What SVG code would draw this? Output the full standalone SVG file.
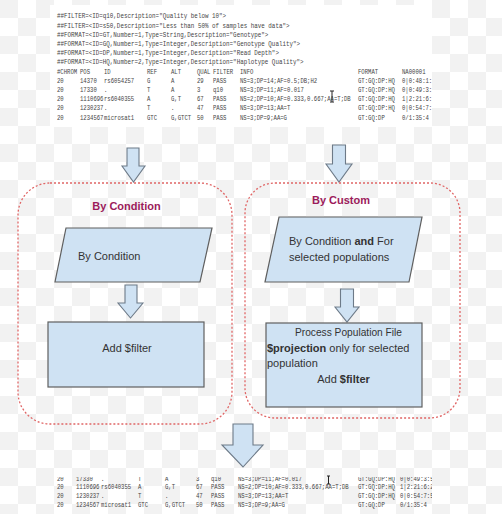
<svg xmlns="http://www.w3.org/2000/svg" width="502" height="514" viewBox="0 0 502 514">
<defs>
<pattern id="chk" width="36" height="36" patternUnits="userSpaceOnUse">
<rect width="36" height="36" fill="#ffffff"/>
<rect width="18" height="18" fill="#f2f2f2"/>
<rect x="18" y="18" width="18" height="18" fill="#f2f2f2"/>
</pattern>
<clipPath id="clipTop"><rect x="50" y="5" width="382" height="122"/></clipPath>
<clipPath id="clipBot"><rect x="50" y="477" width="382" height="37"/></clipPath>
<style>
.vcf{font-family:"Liberation Mono",monospace;font-size:7px;fill:#454545}
.box{fill:#cfe2f3;stroke:#5f5f5f;stroke-width:1.2}
.grp{fill:none;stroke:#e06666;stroke-width:1.3;stroke-dasharray:2 2}
.title{font-family:"Liberation Sans",Arial,sans-serif;font-size:11px;font-weight:bold;fill:#9c1b5b}
.lbl{font-family:"Liberation Sans",Arial,sans-serif;font-size:11px;fill:#333333}
.b{font-weight:bold}
.arr{fill:#cfe2f3;stroke:#6d7a88;stroke-width:1.1;stroke-linejoin:miter}
.cur{fill:none;stroke:#222;stroke-width:1}
</style>
</defs>
<rect width="502" height="514" fill="url(#chk)"/>

<g id="vcf-input">
<rect x="50" y="5" width="382" height="122" fill="#ffffff"/>
<g clip-path="url(#clipTop)">
<g transform="scale(0.84,1)" class="vcf">
<text x="67.86" y="18.5">##FILTER=&lt;ID=q10,Description="Quality below 10"&gt;</text>
<text x="67.86" y="27.7">##FILTER=&lt;ID=s50,Description="Less than 50% of samples have data"&gt;</text>
<text x="67.86" y="36.9">##FORMAT=&lt;ID=GT,Number=1,Type=String,Description="Genotype"&gt;</text>
<text x="67.86" y="46.1">##FORMAT=&lt;ID=GQ,Number=1,Type=Integer,Description="Genotype Quality"&gt;</text>
<text x="67.86" y="55.3">##FORMAT=&lt;ID=DP,Number=1,Type=Integer,Description="Read Depth"&gt;</text>
<text x="67.86" y="64.5">##FORMAT=&lt;ID=HQ,Number=2,Type=Integer,Description="Haplotype Quality"&gt;</text>
</g>
<g transform="scale(0.8,1)" class="vcf">
<text y="73.7"><tspan x="71.25">#CHROM</tspan><tspan x="100">POS</tspan><tspan x="130">ID</tspan><tspan x="183.75">REF</tspan><tspan x="213.75">ALT</tspan><tspan x="246.25">QUAL</tspan><tspan x="266.25">FILTER</tspan><tspan x="300">INFO</tspan><tspan x="447.5">FORMAT</tspan><tspan x="502.5">NA00001</tspan></text>
<text y="82.9"><tspan x="71.25">20</tspan><tspan x="100">14370</tspan><tspan x="130">rs6054257</tspan><tspan x="183.75">G</tspan><tspan x="213.75">A</tspan><tspan x="246.25">29</tspan><tspan x="266.25">PASS</tspan><tspan x="300">NS=3;DP=14;AF=0.5;DB;H2</tspan><tspan x="447.5">GT:GQ:DP:HQ</tspan><tspan x="502.5">0|0:48:1:51,51</tspan></text>
<text y="92.1"><tspan x="71.25">20</tspan><tspan x="100">17330</tspan><tspan x="130">.</tspan><tspan x="183.75">T</tspan><tspan x="213.75">A</tspan><tspan x="246.25">3</tspan><tspan x="266.25">q10</tspan><tspan x="300">NS=3;DP=11;AF=0.017</tspan><tspan x="447.5">GT:GQ:DP:HQ</tspan><tspan x="502.5">0|0:49:3:58,50</tspan></text>
<text y="101.3"><tspan x="71.25">20</tspan><tspan x="100">1110696</tspan><tspan x="130">rs6040355</tspan><tspan x="183.75">A</tspan><tspan x="213.75">G,T</tspan><tspan x="246.25">67</tspan><tspan x="266.25">PASS</tspan><tspan x="300">NS=2;DP=10;AF=0.333,0.667;AA=T;DB</tspan><tspan x="447.5">GT:GQ:DP:HQ</tspan><tspan x="502.5">1|2:21:6:23,27</tspan></text>
<text y="110.5"><tspan x="71.25">20</tspan><tspan x="100">1230237</tspan><tspan x="130">.</tspan><tspan x="183.75">T</tspan><tspan x="213.75">.</tspan><tspan x="246.25">47</tspan><tspan x="266.25">PASS</tspan><tspan x="300">NS=3;DP=13;AA=T</tspan><tspan x="447.5">GT:GQ:DP:HQ</tspan><tspan x="502.5">0|0:54:7:56,60</tspan></text>
<text y="119.7"><tspan x="71.25">20</tspan><tspan x="100">1234567</tspan><tspan x="130">microsat1</tspan><tspan x="183.75">GTC</tspan><tspan x="213.75">G,GTCT</tspan><tspan x="246.25">50</tspan><tspan x="266.25">PASS</tspan><tspan x="300">NS=3;DP=9;AA=G</tspan><tspan x="447.5">GT:GQ:DP</tspan><tspan x="502.5">0/1:35:4</tspan></text>
</g>
</g>
<path class="cur" d="M330,91 h4 M332,91 v11 M330,102 h4"/>
</g>

<g id="connectors">
<polygon class="arr" points="127,148 139,148 139,166 145,166 133.5,182 122,166 127,166"/>
<polygon class="arr" points="332.5,145 345.5,145 345.5,164 352,164 339,182 326,164 332.5,164"/>
<polygon class="arr" points="125,285 137,285 137,303 143,303 130.5,318 118,303 125,303"/>
<polygon class="arr" points="340.5,289 353.5,289 353.5,307 359,307 347,322 335,307 340.5,307"/>
<polygon class="arr" points="233,424 253,424 253,445 263,445 243,467 222,445 233,445"/>
</g>

<g id="group-by-condition">
<rect class="grp" x="18" y="183" width="214" height="241" rx="32" ry="32"/>
<text class="title" x="126.5" y="210" text-anchor="middle">By Condition</text>
</g>

<g id="group-by-custom">
<rect class="grp" x="245" y="183" width="215" height="235" rx="30" ry="30"/>
<text class="title" x="341" y="204" text-anchor="middle">By Custom</text>
</g>

<g id="node-condition-input">
<polygon class="box" points="66,228 212,228 200,282 55,282"/>
<text class="lbl" x="78" y="260">By Condition</text>
</g>

<g id="node-add-filter">
<rect class="box" x="48" y="322" width="156" height="65"/>
<text class="lbl" x="127" y="352" text-anchor="middle">Add $filter</text>
</g>

<g id="node-custom-input">
<polygon class="box" points="279,217 422,217 409,282 265,282"/>
<text class="lbl" x="289" y="245">By Condition <tspan class="b">and</tspan> For</text>
<text class="lbl" x="289" y="261">selected populations</text>
</g>

<g id="node-process-population">
<rect class="box" x="266" y="323" width="156" height="84"/>
<text class="lbl" x="295" y="336" textLength="107" lengthAdjust="spacingAndGlyphs">Process Population File</text>
<text class="lbl" x="267" y="352"><tspan class="b">$projection</tspan> only for selected</text>
<text class="lbl" x="267" y="367">population</text>
<text class="lbl" x="343.5" y="383" text-anchor="middle">Add <tspan class="b">$filter</tspan></text>
</g>

<g id="vcf-output">
<g clip-path="url(#clipBot)">
<g transform="scale(0.8,1)" class="vcf">
<text y="481"><tspan x="71.25">20</tspan><tspan x="95">17330</tspan><tspan x="126.25">.</tspan><tspan x="172.5">T</tspan><tspan x="206.25">A</tspan><tspan x="245">3</tspan><tspan x="263.75">q10</tspan><tspan x="297.5">NS=3;DP=11;AF=0.017</tspan><tspan x="447.5">GT:GQ:DP:HQ</tspan><tspan x="500">0|0:49:3:58,50</tspan></text>
<text y="489.5"><tspan x="71.25">20</tspan><tspan x="95">1110696</tspan><tspan x="126.25">rs6040355</tspan><tspan x="172.5">A</tspan><tspan x="206.25">G,T</tspan><tspan x="245">67</tspan><tspan x="263.75">PASS</tspan><tspan x="297.5">NS=2;DP=10;AF=0.333,0.667;AA=T;DB</tspan><tspan x="447.5">GT:GQ:DP:HQ</tspan><tspan x="500">1|2:21:6:23,27</tspan></text>
<text y="498.5"><tspan x="71.25">20</tspan><tspan x="95">1230237</tspan><tspan x="126.25">.</tspan><tspan x="172.5">T</tspan><tspan x="206.25">.</tspan><tspan x="245">47</tspan><tspan x="263.75">PASS</tspan><tspan x="297.5">NS=3;DP=13;AA=T</tspan><tspan x="447.5">GT:GQ:DP:HQ</tspan><tspan x="500">0|0:54:7:56,60</tspan></text>
<text y="507.5"><tspan x="71.25">20</tspan><tspan x="95">1234567</tspan><tspan x="126.25">microsat1</tspan><tspan x="172.5">GTC</tspan><tspan x="206.25">G,GTCT</tspan><tspan x="245">50</tspan><tspan x="263.75">PASS</tspan><tspan x="297.5">NS=3;DP=9;AA=G</tspan><tspan x="447.5">GT:GQ:DP</tspan><tspan x="500">0/1:35:4</tspan></text>
</g>
</g>
<path class="cur" d="M327,476 h3 M328.5,476 v8 M327,484 h3"/>
</g>
</svg>
